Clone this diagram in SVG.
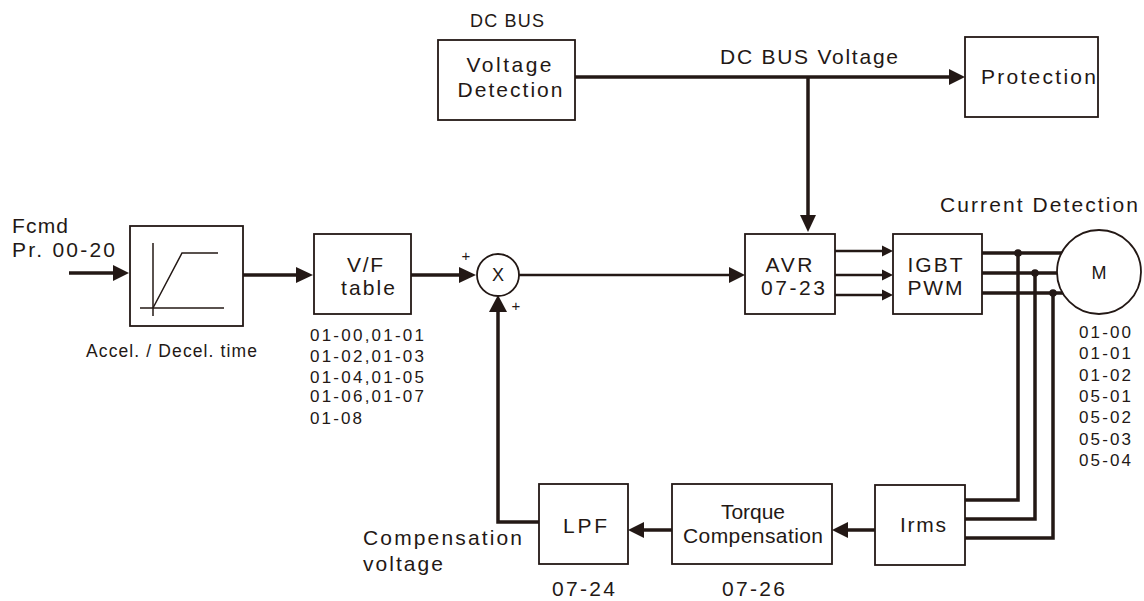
<svg xmlns="http://www.w3.org/2000/svg" width="1144" height="601" viewBox="0 0 1144 601">
<style>
text{font-family:"Liberation Sans",Arial,sans-serif;fill:#231815;font-size:21px}
.s{font-size:17.5px}
.m{font-size:17px}
.box{fill:#fff;stroke:#231815;stroke-width:1.8}
.ln{stroke:#231815;stroke-width:3.5;fill:none}
.tl{stroke:#231815;stroke-width:2.5;fill:none}
.g{stroke:#231815;stroke-width:1.5;fill:none}
.ah{fill:#231815}
</style>
<rect width="1144" height="601" fill="#fff"/>
<g id="connectors">
  <line class="ln" x1="575" y1="77" x2="950" y2="77"/>
  <polygon class="ah" points="965,77 949,69 949,85"/>
  <line class="ln" x1="808" y1="77" x2="808" y2="216"/>
  <polygon class="ah" points="808,232 800,215 816,215"/>
  <line class="ln" x1="69" y1="273" x2="115" y2="273"/>
  <polygon class="ah" points="129,273 113,265 113,281"/>
  <line class="ln" x1="243" y1="275" x2="298" y2="275"/>
  <polygon class="ah" points="313,275 296,267 296,283"/>
  <line class="ln" x1="411" y1="275" x2="461" y2="275"/>
  <polygon class="ah" points="476,275 459,267 459,283"/>
  <line class="tl" x1="519" y1="275" x2="730" y2="275"/>
  <polygon class="ah" points="745,275 729,267 729,283"/>
  <line class="tl" x1="835" y1="251" x2="884" y2="251"/>
  <polygon class="ah" points="893,251 882,245.5 882,256.5"/>
  <line class="tl" x1="835" y1="275" x2="884" y2="275"/>
  <polygon class="ah" points="893,275 882,269.5 882,280.5"/>
  <line class="tl" x1="835" y1="295" x2="884" y2="295"/>
  <polygon class="ah" points="893,295 882,289.5 882,300.5"/>
  <line class="ln" x1="982" y1="253" x2="1066" y2="253"/>
  <line class="ln" x1="982" y1="273" x2="1066" y2="273"/>
  <line class="ln" x1="982" y1="293" x2="1066" y2="293"/>
  <polyline class="ln" points="1018,253 1018,500 963,500"/>
  <polyline class="ln" points="1035,273 1035,519 963,519"/>
  <polyline class="ln" points="1053,293 1053,538 963,538"/>
  <circle cx="1018" cy="253" r="3.8" class="ah"/>
  <circle cx="1035" cy="273" r="3.8" class="ah"/>
  <circle cx="1053" cy="293" r="3.8" class="ah"/>
  <line class="ln" x1="875" y1="530" x2="846" y2="530"/>
  <polygon class="ah" points="832,530 848,522 848,538"/>
  <line class="ln" x1="672" y1="530" x2="642" y2="530"/>
  <polygon class="ah" points="628,530 644,522 644,538"/>
  <polyline class="ln" points="539,522 498,522 498,310"/>
  <polygon class="ah" points="498,295 489,312 507,312"/>
</g>
<g id="dcbus-detect">
  <text x="507" y="27" text-anchor="middle" textLength="74" lengthAdjust="spacing" style="font-size:18px">DC BUS</text>
  <rect class="box" x="438" y="40" width="137" height="80"/>
  <text x="509" y="72" text-anchor="middle" textLength="85" lengthAdjust="spacing">Voltage</text>
  <text x="510" y="97" text-anchor="middle" textLength="105" lengthAdjust="spacing">Detection</text>
</g>
<g id="dcbus-label">
  <text x="720" y="64" textLength="178" lengthAdjust="spacing">DC BUS Voltage</text>
</g>
<g id="protection">
  <rect class="box" x="965" y="37" width="133" height="80"/>
  <text x="981" y="84" textLength="115" lengthAdjust="spacing">Protection</text>
</g>
<g id="fcmd">
  <text x="12" y="233" textLength="56" lengthAdjust="spacing">Fcmd</text>
  <text x="12" y="257" textLength="103" lengthAdjust="spacing">Pr. 00-20</text>
</g>
<g id="accel">
  <rect class="box" x="130" y="226" width="113" height="100"/>
  <line class="g" x1="153" y1="243" x2="153" y2="316"/>
  <line class="g" x1="140" y1="308" x2="224" y2="308"/>
  <polyline class="g" points="153,308 182,253 218,253"/>
  <text class="s" x="86" y="357" textLength="171" lengthAdjust="spacing">Accel. / Decel. time</text>
</g>
<g id="vf">
  <rect class="box" x="314" y="234" width="97" height="80"/>
  <text x="365" y="272" text-anchor="middle" textLength="36" lengthAdjust="spacing">V/F</text>
  <text x="368" y="295" text-anchor="middle" textLength="54" lengthAdjust="spacing">table</text>
  <text class="m" x="310" y="341" textLength="114" lengthAdjust="spacing">01-00,01-01</text>
  <text class="m" x="310" y="362" textLength="114" lengthAdjust="spacing">01-02,01-03</text>
  <text class="m" x="310" y="383" textLength="114" lengthAdjust="spacing">01-04,01-05</text>
  <text class="m" x="310" y="402" textLength="114" lengthAdjust="spacing">01-06,01-07</text>
  <text class="m" x="310" y="424" textLength="52" lengthAdjust="spacing">01-08</text>
</g>
<g id="sum">
  <circle cx="498" cy="275" r="21" class="box"/>
  <text x="498" y="281" text-anchor="middle" style="font-size:18px">X</text>
  <text x="466" y="261" text-anchor="middle" style="font-size:15px">+</text>
  <text x="516" y="311" text-anchor="middle" style="font-size:15px">+</text>
</g>
<g id="avr">
  <rect class="box" x="745" y="234" width="90" height="80"/>
  <text x="789" y="272" text-anchor="middle" textLength="47" lengthAdjust="spacing">AVR</text>
  <text x="793" y="295" text-anchor="middle" textLength="64" lengthAdjust="spacing">07-23</text>
</g>
<g id="igbt">
  <rect class="box" x="893" y="234" width="89" height="80"/>
  <text x="935" y="272" text-anchor="middle" textLength="55" lengthAdjust="spacing">IGBT</text>
  <text x="935" y="295" text-anchor="middle" textLength="55" lengthAdjust="spacing">PWM</text>
</g>
<g id="motor">
  <circle cx="1099" cy="272" r="42" class="box"/>
  <text x="1099" y="279" text-anchor="middle" style="font-size:18px">M</text>
  <text x="940" y="212" textLength="198" lengthAdjust="spacing">Current Detection</text>
  <text class="m" x="1079" y="338" textLength="52" lengthAdjust="spacing">01-00</text>
  <text class="m" x="1079" y="359" textLength="52" lengthAdjust="spacing">01-01</text>
  <text class="m" x="1079" y="381" textLength="52" lengthAdjust="spacing">01-02</text>
  <text class="m" x="1079" y="402" textLength="52" lengthAdjust="spacing">05-01</text>
  <text class="m" x="1079" y="423" textLength="52" lengthAdjust="spacing">05-02</text>
  <text class="m" x="1079" y="445" textLength="52" lengthAdjust="spacing">05-03</text>
  <text class="m" x="1079" y="466" textLength="52" lengthAdjust="spacing">05-04</text>
</g>
<g id="irms">
  <rect class="box" x="875" y="485" width="90" height="80"/>
  <text x="900" y="532" textLength="46" lengthAdjust="spacing">Irms</text>
</g>
<g id="torque">
  <rect class="box" x="672" y="484" width="160" height="80"/>
  <text x="753" y="519" text-anchor="middle" textLength="64" lengthAdjust="spacing">Torque</text>
  <text x="683" y="543" textLength="140" lengthAdjust="spacing">Compensation</text>
  <text x="722" y="596" textLength="63" lengthAdjust="spacing">07-26</text>
</g>
<g id="lpf">
  <rect class="box" x="539" y="484" width="89" height="80"/>
  <text x="563" y="533" textLength="44" lengthAdjust="spacing">LPF</text>
  <text x="552" y="596" textLength="63" lengthAdjust="spacing">07-24</text>
</g>
<g id="comp-label">
  <text x="363" y="545" textLength="159" lengthAdjust="spacing">Compensation</text>
  <text x="363" y="571" textLength="80" lengthAdjust="spacing">voltage</text>
</g>
</svg>
